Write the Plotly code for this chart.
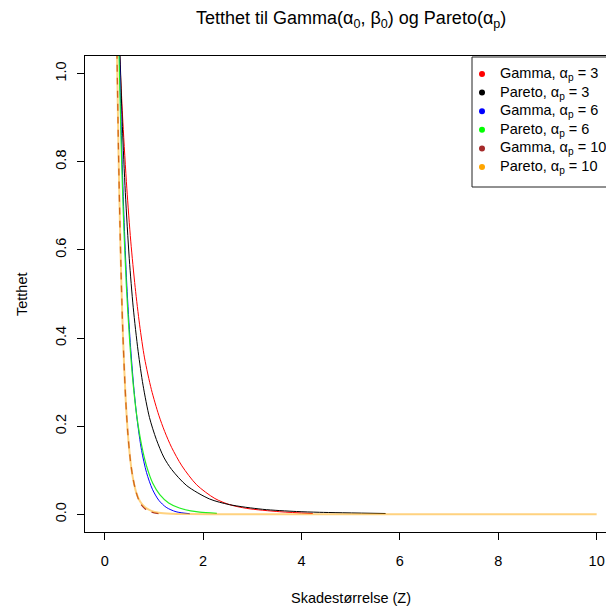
import plotly.graph_objects as go

# Density curves (x = claim size Z, y = density)
gamma3_x = [0.30, 0.37, 0.45, 0.53, 0.62, 0.71, 0.81, 0.95, 1.10, 1.22, 1.36, 1.57, 1.87, 2.24, 2.54, 2.89, 3.56, 4.23]
gamma3_y = [1.05, 0.89, 0.74, 0.62, 0.515, 0.43, 0.355, 0.283, 0.225, 0.188, 0.152, 0.110, 0.067, 0.036, 0.022, 0.0135, 0.006, 0.002]

pareto3_x = [0.31, 0.36, 0.42, 0.50, 0.58, 0.68, 0.78, 0.91, 1.05, 1.20, 1.36, 1.67, 2.13, 2.54, 3.21, 3.90, 4.37, 5.71]
pareto3_y = [1.05, 0.88, 0.73, 0.58, 0.47, 0.37, 0.293, 0.22, 0.17, 0.13, 0.102, 0.065, 0.035, 0.022, 0.0115, 0.0065, 0.0047, 0.002]

gamma6_x = [0.30, 0.34, 0.39, 0.45, 0.52, 0.59, 0.66, 0.75, 0.85, 0.97, 1.10, 1.25, 1.45, 1.73]
gamma6_y = [1.05, 0.86, 0.68, 0.52, 0.39, 0.29, 0.215, 0.145, 0.095, 0.057, 0.032, 0.016, 0.006, 0.0015]

pareto6_x = [0.29, 0.33, 0.38, 0.44, 0.51, 0.58, 0.65, 0.75, 0.85, 0.98, 1.12, 1.30, 1.52, 1.75, 1.93, 2.28]
pareto6_y = [1.05, 0.86, 0.68, 0.52, 0.39, 0.295, 0.225, 0.157, 0.110, 0.070, 0.045, 0.026, 0.0145, 0.008, 0.0053, 0.0024]

gamma10_x = [0.25, 0.28, 0.31, 0.34, 0.37, 0.40, 0.43, 0.47, 0.52, 0.57, 0.64, 0.72, 0.82, 0.95, 1.10, 1.20]
gamma10_y = [1.05, 0.83, 0.66, 0.52, 0.41, 0.325, 0.255, 0.185, 0.125, 0.085, 0.050, 0.026, 0.013, 0.005, 0.0015, 0.0006]

pareto10_x = [0.25, 0.28, 0.31, 0.34, 0.37, 0.40, 0.43, 0.47, 0.52, 0.57, 0.64, 0.72, 0.82, 0.95, 1.10, 1.35, 1.70, 2.5, 4.0, 7.0, 10.0]
pareto10_y = [1.05, 0.83, 0.66, 0.52, 0.41, 0.325, 0.255, 0.185, 0.125, 0.085, 0.050, 0.029, 0.016, 0.0078, 0.0038, 0.0015, 0.0006, 0.0002, 0.00005, 0.00001, 0.000004]

series_labels = [
    "Gamma, α<sub>p</sub> = 3",
    "Pareto, α<sub>p</sub> = 3",
    "Gamma, α<sub>p</sub> = 6",
    "Pareto, α<sub>p</sub> = 6",
    "Gamma, α<sub>p</sub> = 10",
    "Pareto, α<sub>p</sub> = 10",
]
series_colors = ["#FF0000", "#000000", "#0000FF", "#00FF00", "#A52A2A", "#FFA500"]

x_ticks = [0, 2, 4, 6, 8, 10]
y_ticks = [0.0, 0.2, 0.4, 0.6, 0.8, 1.0]

W, H = 606, 609
ML, MR, MT, MB = 85, 0, 56, 77
PW, PH = W - ML - MR, H - MT - MB


def px_x(p):
    return (p - ML) / PW


def px_y(p):
    return (H - MB - p) / PH


FONT = "Liberation Sans, Arial, sans-serif"
FS = 14.5

curves = [
    (gamma3_x, gamma3_y, dict(color="#FF0000", width=1)),
    (pareto3_x, pareto3_y, dict(color="#000000", width=1)),
    (gamma6_x, gamma6_y, dict(color="#0000FF", width=1)),
    (pareto6_x, pareto6_y, dict(color="#22EE22", width=1.2)),
    (gamma10_x, gamma10_y, dict(color="#A52A2A", width=1.3, dash="7px,6px")),
    (pareto10_x, pareto10_y, dict(color="rgba(255,165,0,0.5)", width=2)),
]

fig = go.Figure()
for (xs, ys, ln), name in zip(curves, series_labels):
    fig.add_trace(go.Scatter(
        x=xs, y=ys, mode="lines", name=name, showlegend=False,
        line=dict(shape="spline", smoothing=0.8, **ln),
        hoverinfo="skip",
    ))

shapes = []
annotations = []

# legend box (runs past the right edge of the page)
shapes.append(dict(
    type="rect", xref="paper", yref="paper",
    x0=px_x(472), x1=px_x(660), y0=px_y(187), y1=px_y(57),
    line=dict(color="#222222", width=1), fillcolor="white", layer="above",
))
row_y = [74, 92.6, 111.2, 129.8, 148.4, 167]
for ry, lab, col in zip(row_y, series_labels, series_colors):
    shapes.append(dict(
        type="circle", xref="paper", yref="paper",
        xsizemode="pixel", ysizemode="pixel",
        xanchor=px_x(482), yanchor=px_y(ry),
        x0=-3, x1=3, y0=-3, y1=3,
        fillcolor=col, line=dict(color=col, width=0), layer="above",
    ))
    annotations.append(dict(
        x=px_x(498), y=px_y(ry), xref="paper", yref="paper",
        text=lab, showarrow=False, xanchor="left", yanchor="middle",
        font=dict(family=FONT, size=FS, color="black"),
    ))

# title and axis titles
annotations.append(dict(
    x=px_x(351), y=px_y(19), xref="paper", yref="paper",
    text="Tetthet til Gamma(α<sub>0</sub>, β<sub>0</sub>) og Pareto(α<sub>p</sub>)",
    showarrow=False, xanchor="center", yanchor="middle",
    font=dict(family=FONT, size=18, color="black"),
))
annotations.append(dict(
    x=px_x(351), y=px_y(598), xref="paper", yref="paper",
    text="Skadestørrelse (Z)", showarrow=False, xanchor="center", yanchor="middle",
    font=dict(family=FONT, size=FS, color="black"),
))
annotations.append(dict(
    x=px_x(22), y=px_y(294), xref="paper", yref="paper",
    text="Tetthet", showarrow=False, textangle=-90, xanchor="center", yanchor="middle",
    font=dict(family=FONT, size=FS, color="black"),
))

fig.update_layout(
    width=W, height=H,
    margin=dict(l=ML, r=MR, t=MT, b=MB, autoexpand=False),
    paper_bgcolor="white", plot_bgcolor="white",
    showlegend=False,
    shapes=shapes, annotations=annotations,
    font=dict(family=FONT, size=FS, color="black"),
)
fig.update_xaxes(
    range=[-0.4, 10.19], tickvals=x_ticks, ticktext=[str(v) for v in x_ticks],
    showgrid=False, zeroline=False, showline=True, linecolor="black", linewidth=1,
    mirror=True, ticks="outside", ticklen=7, tickcolor="black",
    ticklabelstandoff=9, tickfont=dict(family=FONT, size=FS, color="black"),
)
fig.update_yaxes(
    range=[-0.04, 1.04], tickvals=y_ticks, ticktext=[f"{v:.1f}" for v in y_ticks],
    showgrid=False, zeroline=False, showline=True, linecolor="black", linewidth=1,
    ticks="outside", ticklen=7, tickcolor="black", tickangle=-90,
    ticklabelstandoff=5, tickfont=dict(family=FONT, size=FS, color="black"),
)

fig.write_html("out.html")
